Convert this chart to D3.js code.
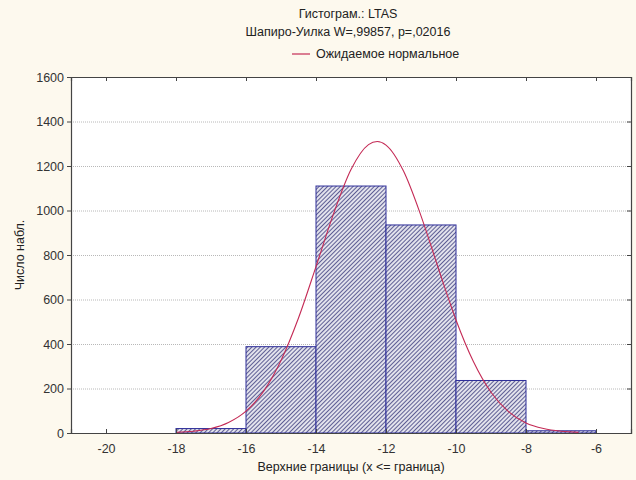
<!DOCTYPE html>
<html><head><meta charset="utf-8">
<script src="https://cdn.jsdelivr.net/npm/d3@7"></script>
<style>
html,body{margin:0;padding:0;background:#fdf9ee;}
svg{display:block;font-family:"Liberation Sans",Arial,sans-serif;}
</style></head>
<body>
<svg id="chart" width="636" height="480"></svg>
<script>
// Histogram bins (lower, upper bounds) and counts
const binLower = [-18, -16, -14, -12, -10, -8];
const binUpper = [-16, -14, -12, -10, -8, -6];
const counts   = [20, 388, 1110, 935, 236, 10];
// Expected normal curve
const curveX = [-18, -17.5, -17, -16.5, -16, -15.5, -15, -14.5, -14, -13.5, -13, -12.5, -12.25, -12, -11.5, -11, -10.5, -10, -9.5, -9, -8.5, -8, -7.5, -7, -6.5];
const curveY = [3, 8, 20, 47, 98, 187, 326, 517, 748, 985, 1184, 1296, 1310, 1294, 1177, 976, 738, 508, 320, 183, 96, 45, 20, 8, 3];
const xTicks = [-20, -18, -16, -14, -12, -10, -8, -6];
const yTicks = [0, 200, 400, 600, 800, 1000, 1200, 1400, 1600];
const titleLines = ["Гистограм.: LTAS", "Шапиро-Уилка W=,99857, p=,02016"];
const legendLabel = "Ожидаемое нормальное";
const xLabel = "Верхние границы (x <= граница)";
const yLabel = "Число набл.";

const svg = d3.select("#chart");
const L = 71, R = 631, T = 77, B = 433;
const x = d3.scaleLinear().domain([-21, -5]).range([L, R]);
const y = d3.scaleLinear().domain([0, 1600]).range([B, T]);

const defs = svg.append("defs");
const pat = defs.append("pattern").attr("id", "hatch").attr("patternUnits", "userSpaceOnUse")
  .attr("width", 3).attr("height", 3).attr("patternTransform", "rotate(45)");
pat.append("rect").attr("width", 3).attr("height", 3).attr("fill", "#e2e2ec");
pat.append("line").attr("x1", 0).attr("y1", 0).attr("x2", 0).attr("y2", 3)
  .attr("stroke", "#24246e").attr("stroke-width", 1.4);

svg.append("rect").attr("x", L).attr("y", T).attr("width", R - L).attr("height", B - T).attr("fill", "#ffffff");

// grid
svg.append("g").selectAll("line").data(yTicks.filter(d => d > 0 && d < 1600)).join("line")
  .attr("x1", L).attr("x2", R).attr("y1", d => y(d) + 0.5).attr("y2", d => y(d) + 0.5)
  .attr("stroke", "#b8b8b8").attr("stroke-dasharray", "1,1").attr("stroke-width", 1);

// bars
svg.append("g").selectAll("rect").data(counts).join("rect")
  .attr("x", (d, i) => x(binLower[i]))
  .attr("y", d => y(d))
  .attr("width", (d, i) => x(binUpper[i]) - x(binLower[i]))
  .attr("height", d => B - y(d))
  .attr("fill", "url(#hatch)")
  .attr("stroke", "#2e2e9a").attr("stroke-width", 1);

// curve
const line = d3.line().x(d => x(d[0])).y(d => y(d[1])).curve(d3.curveMonotoneX);
svg.append("path").datum(curveX.map((v, i) => [v, curveY[i]]))
  .attr("d", line).attr("fill", "none").attr("stroke", "#c42a55").attr("stroke-width", 1.1);

// axes
const axisColor = "#444";
const fmt = d => String(d);
const gx = svg.append("g").attr("transform", `translate(0,${B})`)
  .call(d3.axisBottom(x).tickValues(xTicks).tickSize(-4).tickPadding(11).tickFormat(fmt));
const gy = svg.append("g").attr("transform", `translate(${L},0)`)
  .call(d3.axisLeft(y).tickValues(yTicks).tickSize(4).tickPadding(3).tickFormat(fmt));
const gt = svg.append("g").attr("transform", `translate(0,${T})`)
  .call(d3.axisTop(x).tickValues(xTicks).tickSize(-4).tickFormat(""));
const gr = svg.append("g").attr("transform", `translate(${R},0)`)
  .call(d3.axisRight(y).tickValues(yTicks).tickSize(-4).tickFormat(""));
[gx, gy, gt, gr].forEach(g => {
  g.select(".domain").attr("stroke", axisColor).attr("stroke-width", 1.2);
  g.selectAll(".tick line").attr("stroke", axisColor);
  g.selectAll("text").attr("fill", "#333").attr("font-size", 12.5)
    .attr("font-family", "'Liberation Sans',Arial,sans-serif");
});

// titles
const cx = 348;
svg.append("g").selectAll("text").data(titleLines).join("text")
  .attr("x", cx).attr("y", (d, i) => 18 + i * 18).attr("text-anchor", "middle")
  .attr("font-size", 12.5).attr("fill", "#222").text(d => d);
svg.append("line").attr("x1", 292).attr("x2", 310).attr("y1", 54).attr("y2", 54)
  .attr("stroke", "#c42a55").attr("stroke-width", 1.2);
svg.append("text").attr("x", 316).attr("y", 58).attr("font-size", 12.5).attr("fill", "#222").text(legendLabel);

svg.append("text").attr("x", 351).attr("y", 471).attr("text-anchor", "middle")
  .attr("font-size", 12.5).attr("fill", "#222").text(xLabel);
svg.append("text").attr("transform", `translate(24,255) rotate(-90)`).attr("text-anchor", "middle")
  .attr("font-size", 12.5).attr("fill", "#222").text(yLabel);
</script>
</body></html>
